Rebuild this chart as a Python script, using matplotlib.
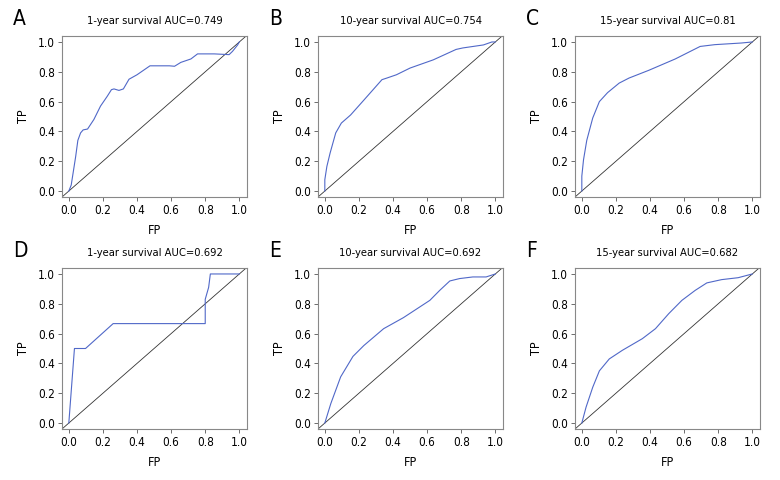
import matplotlib
matplotlib.use("Agg")
import matplotlib.pyplot as plt

plt.rcParams['font.family'] = ['DejaVu Sans']
plt.rcParams['font.stretch'] = 'condensed'

letters = ["A", "B", "C", "D", "E", "F"]
titles = ["1-year survival AUC=0.749", "10-year survival AUC=0.754", "15-year survival AUC=0.81",
          "1-year survival AUC=0.692", "10-year survival AUC=0.692", "15-year survival AUC=0.682"]

fp_a = [0, 0.014, 0.04, 0.053, 0.069, 0.084, 0.11, 0.147, 0.186, 0.225, 0.25, 0.265, 0.294, 0.32, 0.353, 0.40,
        0.476, 0.59, 0.62, 0.657, 0.716, 0.755, 0.853, 0.94, 0.96, 0.99, 1.0]
tp_a = [0, 0.04, 0.23, 0.34, 0.39, 0.41, 0.416, 0.48, 0.57, 0.635, 0.68, 0.685, 0.675, 0.685, 0.75, 0.78,
        0.84, 0.84, 0.837, 0.863, 0.886, 0.92, 0.92, 0.915, 0.937, 0.98, 1.0]

fp_b = [0, 0, 0.012, 0.031, 0.064, 0.097, 0.151, 0.229, 0.335, 0.364, 0.42, 0.5, 0.636, 0.77, 0.81, 0.87, 0.93, 0.98, 1.0]
tp_b = [0, 0.076, 0.165, 0.255, 0.39, 0.456, 0.51, 0.61, 0.747, 0.758, 0.78, 0.825, 0.88, 0.95, 0.96, 0.97, 0.98, 1.0, 1.0]

fp_c = [0, 0, 0.01, 0.029, 0.064, 0.103, 0.151, 0.219, 0.277, 0.393, 0.548, 0.694, 0.78, 0.936, 1.0]
tp_c = [0, 0.1, 0.21, 0.34, 0.49, 0.6, 0.66, 0.724, 0.758, 0.81, 0.886, 0.97, 0.982, 0.993, 1.0]

fp_d = [0, 0.033, 0.098, 0.26, 0.8, 0.8, 0.82, 0.83, 1.0]
tp_d = [0, 0.5, 0.5, 0.667, 0.667, 0.83, 0.91, 1.0, 1.0]

fp_e = [0, 0.035, 0.093, 0.165, 0.229, 0.345, 0.461, 0.616, 0.674, 0.733, 0.79, 0.868, 0.946, 1.0]
tp_e = [0, 0.13, 0.31, 0.447, 0.52, 0.633, 0.707, 0.823, 0.89, 0.953, 0.969, 0.98, 0.98, 1.0]

fp_f = [0, 0.025, 0.064, 0.103, 0.161, 0.238, 0.355, 0.432, 0.51, 0.587, 0.665, 0.733, 0.82, 0.917, 1.0]
tp_f = [0, 0.107, 0.24, 0.35, 0.43, 0.488, 0.566, 0.633, 0.734, 0.823, 0.89, 0.94, 0.962, 0.975, 1.0]

fps = [fp_a, fp_b, fp_c, fp_d, fp_e, fp_f]
tps = [tp_a, tp_b, tp_c, tp_d, tp_e, tp_f]
ticks = [0.0, 0.2, 0.4, 0.6, 0.8, 1.0]
tick_labels = ["0.0", "0.2", "0.4", "0.6", "0.8", "1.0"]

fig = plt.figure(figsize=(7.8, 4.8), dpi=100)
lefts = [62, 318, 575]
tops = [36, 268]
W, H = 185, 161
for i in range(6):
    r, c = divmod(i, 3)
    ax = fig.add_axes([lefts[c] / 780, 1 - (tops[r] + H) / 480, W / 780, H / 480])
    ax.set_xlim(-0.04, 1.045)
    ax.set_ylim(-0.04, 1.04)
    ax.plot([-0.1, 1.1], [-0.1, 1.1], color="#333333", lw=0.6)
    ax.plot(fps[i], tps[i], color="#5068c8", lw=0.8)
    ax.set_xticks(ticks)
    ax.set_xticklabels(tick_labels)
    ax.set_yticks(ticks)
    ax.set_yticklabels(tick_labels)
    ax.tick_params(labelsize=8.5, length=3, width=0.6, color="#555555", pad=2)
    for s in ax.spines.values():
        s.set_color("#888888")
        s.set_linewidth(0.8)
    ax.set_xlabel("FP", fontsize=9, labelpad=5)
    ax.set_ylabel("TP", fontsize=9, labelpad=6)
    ax.set_title(titles[i], fontsize=8, pad=9)
    fig.text((lefts[c] - 49) / 780, 1 - (tops[r] - 17) / 480, letters[i], fontsize=15, va="center", ha="left")

fig.savefig("out.png", dpi=100)
